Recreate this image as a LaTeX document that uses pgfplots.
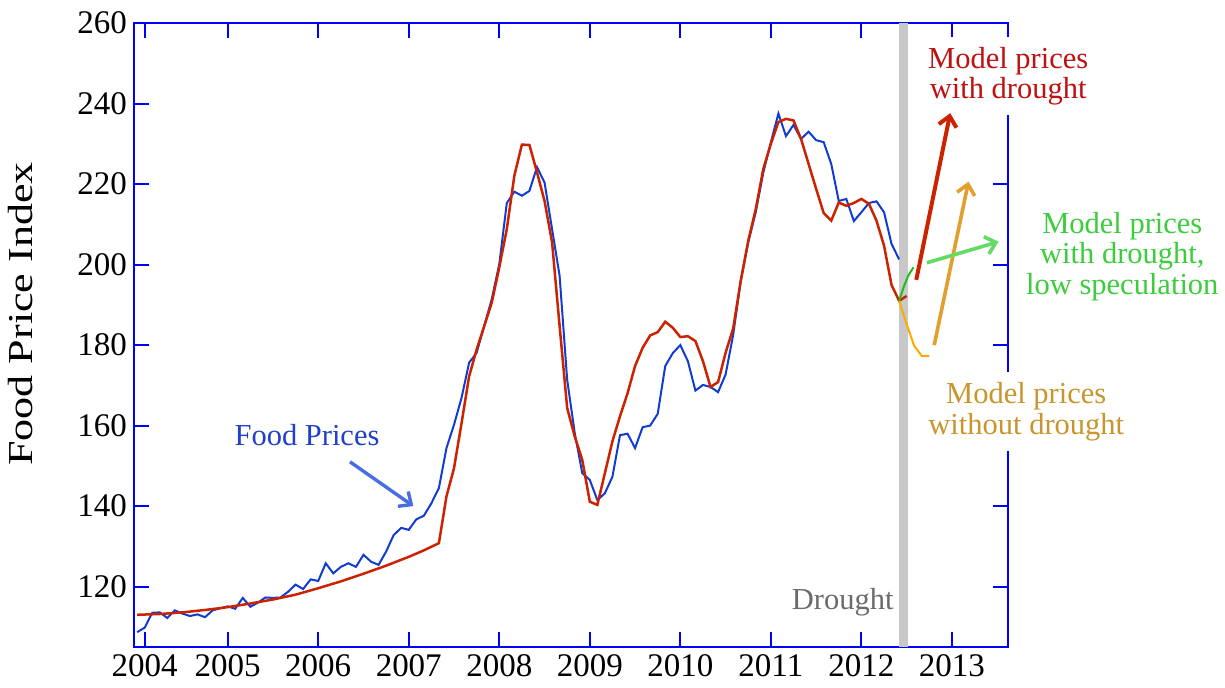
\documentclass[border=0pt]{standalone}
\usepackage{fontspec}
\setmainfont{Liberation Serif}
\usepackage{graphicx}
\usepackage{pgfplots}
\usepackage{pgfplotstable}
\pgfplotsset{compat=1.18}
\usetikzlibrary{arrows.meta}
\definecolor{axisblue}{RGB}{0,0,255}
\definecolor{foodblue}{RGB}{16,60,210}
\definecolor{modelred}{RGB}{204,34,0}
\definecolor{redtxt}{RGB}{192,16,16}
\definecolor{greenline}{RGB}{30,190,30}
\definecolor{greentxt}{RGB}{60,205,60}
\definecolor{greenarrow}{RGB}{100,220,100}
\definecolor{orangeline}{RGB}{255,170,0}
\definecolor{orangearrow}{RGB}{225,160,45}
\definecolor{orangetxt}{RGB}{200,150,45}
\definecolor{foodtxt}{RGB}{32,64,204}
\definecolor{foodarrow}{RGB}{74,110,224}
\definecolor{droughtbar}{RGB}{200,200,200}
\definecolor{droughttxt}{RGB}{107,107,107}
\newcommand{\annot}{\fontsize{15.25}{15.3}\selectfont}

\pgfplotstableread{
m v
0 108.7
1 109.8
2 113.5
3 113.6
4 112.2
5 114.1
6 113.3
7 112.7
8 113.1
9 112.4
10 114.1
11 114.6
12 115.1
13 114.5
14 117.2
15 115.0
16 116.0
17 117.3
18 117.2
19 117.3
20 118.7
21 120.5
22 119.4
23 121.8
24 121.4
25 125.8
26 123.3
27 124.9
28 125.8
29 124.9
30 127.9
31 126.2
32 125.4
33 128.7
34 132.8
35 134.6
36 134.1
37 136.7
38 137.6
39 140.7
40 144.5
41 154.4
42 160.2
43 166.9
44 175.6
45 178.1
46 184.7
47 191.4
48 200.1
49 215.3
50 218.1
51 217.1
52 218.3
53 224.2
54 220.4
55 208.8
56 197.2
57 171.4
58 158.2
59 148.2
60 146.5
61 141.5
62 143.2
63 147.3
64 157.6
65 158.0
66 154.4
67 159.6
68 160.0
69 162.9
70 174.8
71 178.0
72 180.0
73 176.0
74 168.7
75 170.1
76 169.6
77 168.3
78 172.7
79 182.5
80 195.8
81 205.5
82 213.0
83 222.9
84 230.4
85 237.5
86 231.9
87 234.7
88 231.2
89 233.0
90 230.9
91 230.4
92 225.0
93 215.8
94 216.3
95 210.8
96 213.0
97 215.3
98 215.7
99 213.0
100 205.1
101 201.3
}\foodtable

\pgfplotstableread{
m v
0 113.0
3 113.2
6 113.6
9 114.2
12 114.9
15 115.8
18 116.8
21 118.0
24 119.6
27 121.3
30 123.2
33 125.2
36 127.4
38 129.0
40 130.8
41 142.4
42 149.4
43 160.6
44 172.2
45 178.9
46 184.7
47 190.5
48 199.3
49 208.8
50 222.1
51 229.8
52 229.7
53 222.9
54 215.8
55 205.5
56 184.7
57 164.4
58 157.3
59 151.5
60 141.1
61 140.3
62 148.2
63 156.1
64 162.3
65 168.0
66 174.8
67 179.3
68 182.4
69 183.2
70 185.8
71 184.3
72 182.0
73 182.2
74 181.0
75 176.0
76 169.6
77 170.8
78 178.1
79 184.1
80 195.9
81 205.9
82 213.8
83 223.8
84 230.0
85 235.4
86 236.2
87 235.8
88 231.2
89 225.0
90 218.8
91 212.8
92 210.9
93 215.4
94 214.6
95 215.3
96 216.3
97 215.1
98 210.9
99 204.7
100 194.9
101 191.0
102 192.2
}\modeltable

\pgfplotstableread{
m v
101 191.0
101.7 194.9
102.2 197.2
102.9 199.3
}\greentable

\pgfplotstableread{
m v
101 191.0
102 185.2
103 179.8
104 177.3
105 177.3
}\orangetable

\begin{document}
\begin{tikzpicture}
\begin{axis}[
  scale only axis,
  width=437pt, height=312pt,
  xmin=2003.965, xmax=2013.619,
  ymin=105, ymax=260,
  clip=false,
  axis line style={draw=axisblue, line width=1pt},
  tick style={draw=axisblue, line width=1pt},
  major tick length=7.5pt,
  xtick={2004.0833,2005,2006,2007,2008,2009,2010,2011,2012,2013},
  xticklabels={2004,2005,2006,2007,2008,2009,2010,2011,2012,2013},
  ytick={120,140,160,180,200,220,240,260},
  tick label style={font=\fontsize{16.5}{19}\selectfont, text=black},
  /pgf/number format/assume math mode=true,
  ylabel={\scalebox{1.26}[1]{Food Price Index}},
  ylabel style={at={(rel axis cs:-0.1293,0.5337)}, anchor=center, font=\fontsize{17.5}{20}\selectfont},
]
\path (rel axis cs:-0.1533,1.0369) rectangle (rel axis cs:1.2483,-0.0641);

\addplot[draw=none, fill=droughtbar] coordinates {(2012.418,105) (2012.418,260) (2012.518,260) (2012.518,105)} -- cycle;

\addplot[foodblue, line width=1pt] table[x expr=2004+\thisrow{m}/12, y=v] {\foodtable};
\addplot[modelred, line width=1.25pt] table[x expr=2004+\thisrow{m}/12, y=v] {\modeltable};
\addplot[orangeline, line width=1pt] table[x expr=2004+\thisrow{m}/12, y=v] {\orangetable};
\addplot[greenline, line width=1pt] table[x expr=2004+\thisrow{m}/12, y=v] {\greentable};

\node[font=\annot, text=redtxt, fill=white, align=center, inner sep=5pt] at (axis cs:2013.622,246.8) {Model prices\\with drought};
\node[font=\annot, text=orangetxt, fill=white, align=center, inner sep=5pt] at (axis cs:2013.821,163.5) {Model prices\\without drought};
\node[font=\annot, text=greentxt, align=center, inner sep=0pt] at (axis cs:2014.882,202.0) {Model prices\\with drought,\\low speculation};
\node[font=\annot, text=foodtxt, inner sep=0pt] at (axis cs:2005.876,157.7) {Food Prices};
\node[font=\annot, text=droughttxt, inner sep=0pt] at (axis cs:2011.793,116.2) {Drought};

\draw[modelred, line width=2pt, -{Straight Barb[length=5pt,width=9pt]}] (axis cs:2012.606,196.2) -- (axis cs:2012.981,237.6);
\draw[orangearrow, line width=1.8pt, -{Straight Barb[length=5pt,width=9pt]}] (axis cs:2012.804,180.0) -- (axis cs:2013.183,220.6);
\draw[greenarrow, line width=1.8pt, -{Straight Barb[length=5pt,width=9pt]}] (axis cs:2012.724,200.45) -- (axis cs:2013.515,205.67);
\draw[foodarrow, line width=1.7pt, -{Straight Barb[length=5pt,width=9pt]}] (axis cs:2006.351,151.0) -- (axis cs:2007.051,140.0);
\end{axis}
\end{tikzpicture}
\end{document}
